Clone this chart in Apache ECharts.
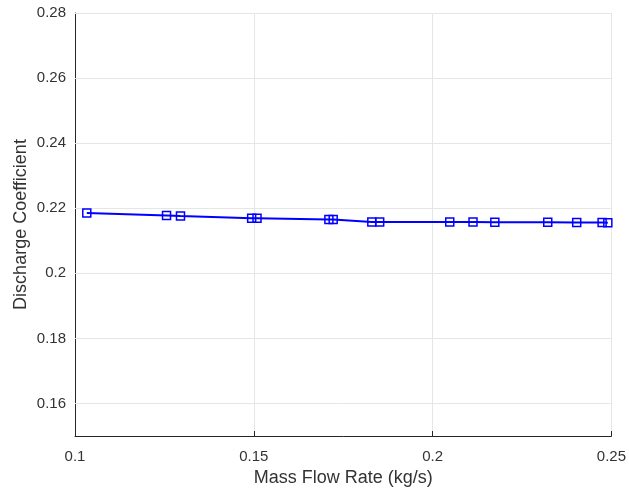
<!DOCTYPE html>
<html><head><meta charset="utf-8">
<script src="https://cdn.jsdelivr.net/npm/echarts@6/dist/echarts.min.js"></script>
<style>html,body{margin:0;padding:0;background:#fff}#c{width:629px;height:496px}</style>
</head><body><div id="c"></div>
<script>
const massFlow = [0.1033, 0.1256, 0.1295, 0.1494, 0.1509, 0.1710, 0.1722, 0.1830, 0.1852, 0.2048, 0.2113, 0.2174, 0.2322, 0.2403, 0.2474, 0.2490];
const dischargeCoef = [0.2185, 0.2178, 0.2176, 0.2169, 0.2169, 0.2165, 0.2165, 0.2158, 0.2158, 0.2158, 0.2158, 0.2157, 0.2157, 0.2156, 0.2156, 0.2155];
const yTicks = [0.16, 0.18, 0.20, 0.22, 0.24, 0.26, 0.28];
const xTicks = [0.1, 0.15, 0.2, 0.25];

const fmt = v => (Math.round(v * 1000) / 1000).toString();
const chart = echarts.init(document.getElementById('c'), null, {renderer: 'canvas'});
const font = '"Liberation Sans", Arial, sans-serif';
chart.setOption({
  animation: false,
  backgroundColor: '#fff',
  grid: {left: 75, right: 17, top: 13, bottom: 60, containLabel: false},
  xAxis: {
    type: 'value', min: 0.1, max: 0.25, interval: 0.05,
    name: 'Mass Flow Rate (kg/s)', nameLocation: 'middle', nameGap: 33, nameMoveOverlap: false,
    nameTextStyle: {fontSize: 18, color: '#333333', fontFamily: font},
    axisLine: {show: true, onZero: false, lineStyle: {color: '#262626', width: 1}},
    axisTick: {show: true, inside: true, length: 5, lineStyle: {color: '#262626'}},
    axisLabel: {fontSize: 15, color: '#333333', margin: 13, fontFamily: font, formatter: fmt,
      showMinLabel: true, showMaxLabel: true},
    splitLine: {show: true, lineStyle: {color: '#e6e6e6', width: 1}}
  },
  yAxis: {
    type: 'value', min: 0.15, max: 0.28,
    name: 'Discharge Coefficient', nameLocation: 'middle', nameGap: 45, nameMoveOverlap: false,
    nameTextStyle: {fontSize: 18, color: '#333333', fontFamily: font},
    axisLine: {show: true, onZero: false, lineStyle: {color: '#262626', width: 1}},
    axisTick: {show: true, inside: true, length: 5, customValues: yTicks, lineStyle: {color: '#262626'}},
    axisLabel: {fontSize: 15, color: '#333333', margin: 9, fontFamily: font, formatter: fmt, customValues: yTicks},
    splitLine: {show: false}
  },
  series: [{
    type: 'line',
    data: massFlow.map((x, i) => [x, dischargeCoef[i]]),
    symbol: 'rect', symbolSize: 8, showAllSymbol: true,
    lineStyle: {color: '#0000ff', width: 2},
    itemStyle: {color: 'rgba(0,0,0,0)', borderColor: '#0000ff', borderWidth: 1.5},
    z: 5,
    markLine: {
      silent: true, symbol: 'none', label: {show: false},
      lineStyle: {color: '#e6e6e6', width: 1, type: 'solid'},
      data: yTicks.map(v => ({yAxis: v})),
      z: 1
    }
  }]
});
</script></body></html>
